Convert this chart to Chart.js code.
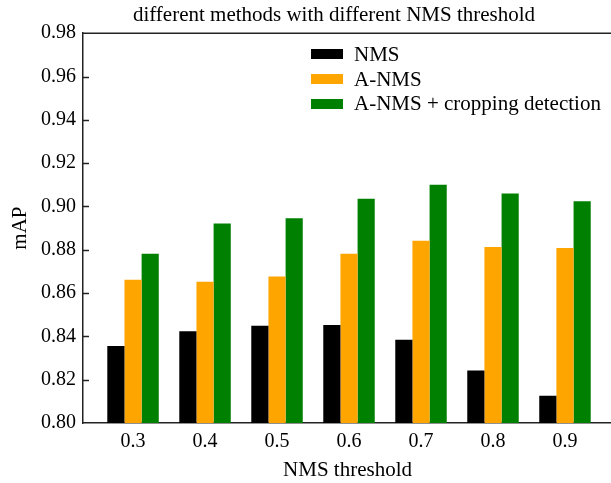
<!DOCTYPE html>
<html lang="en">
<head>
  <meta charset="UTF-8" />
  <title>different methods with different NMS threshold</title>
  <script src="https://cdn.jsdelivr.net/npm/chart.js"></script>
  <style>
    html, body { margin: 0; padding: 0; background: #fff; overflow: hidden; }
    #wrap { position: relative; width: 611px; height: 483px; overflow: hidden; }
    #legend {
      position: absolute; left: 311px; top: 42px;
      font-family: "Liberation Serif", "Times New Roman", serif; font-size: 21px; color: #000;
    }
    .row { display: flex; align-items: center; height: 24.7px; line-height: 24.7px; white-space: nowrap; }
    .sw { width: 32px; height: 10px; margin-right: 11px; }
  </style>
</head>
<body>
  <div id="wrap">
    <canvas id="myChart" width="668" height="483"></canvas>
    <div id="legend"></div>
  </div>

  <script>
    // NMS threshold (x axis)
    const thresholds = [0.3, 0.4, 0.5, 0.6, 0.7, 0.8, 0.9];
    const yTicks = [0.80, 0.82, 0.84, 0.86, 0.88, 0.90, 0.92, 0.94, 0.96, 0.98];

    // mAP values
    const nms      = [0.8356, 0.8424, 0.8449, 0.8453, 0.8384, 0.8242, 0.8126];
    const anms     = [0.8662, 0.8652, 0.8677, 0.8782, 0.8842, 0.8813, 0.8808];
    const anmsCrop = [0.8782, 0.8921, 0.8945, 0.9035, 0.9100, 0.9060, 0.9024];

    const seriesNames  = ['NMS', 'A-NMS', 'A-NMS + cropping detection'];
    const seriesColors = ['#000000', '#ffa500', '#008000'];

    const serif = '"Liberation Serif", "Times New Roman", serif';
    const toPoints = vals => vals.map((v, i) => ({ x: thresholds[i], y: v }));

    // title of the figure is centred on the whole canvas, not the padded area
    const titleWide = {
      id: 'titleWide',
      afterLayout(chart) {
        if (chart.titleBlock) {
          chart.titleBlock.left = 0;
          chart.titleBlock.right = chart.width;
        }
      }
    };

    // top frame line + inward y ticks
    const frame = {
      id: 'frame',
      afterDatasetsDraw(chart) {
        const { ctx, chartArea: a, scales: { y } } = chart;
        ctx.save();
        ctx.strokeStyle = '#222';
        ctx.lineWidth = 1.5;
        ctx.beginPath();
        ctx.moveTo(a.left, a.top);
        ctx.lineTo(a.right, a.top);
        yTicks.slice(1, -1).forEach(v => {
          const py = Math.round(y.getPixelForValue(v)) + 0.5;
          ctx.moveTo(a.left, py);
          ctx.lineTo(a.left + 6, py);
        });
        ctx.stroke();
        ctx.restore();
      }
    };

    const datasets = [nms, anms, anmsCrop].map((vals, i) => ({
      label: seriesNames[i],
      data: toPoints(vals),
      backgroundColor: seriesColors[i],
      borderWidth: 0,
      categoryPercentage: 0.715,
      barPercentage: 1.0
    }));

    new Chart(document.getElementById('myChart'), {
      type: 'bar',
      data: { datasets },
      plugins: [titleWide, frame],
      options: {
        responsive: false,
        animation: false,
        layout: { padding: { left: 0, right: 56, top: 0, bottom: 0 } },
        scales: {
          x: {
            type: 'linear',
            offset: false,
            min: 0.2305,
            max: 0.9653,
            z: 1,
            afterBuildTicks: axis => { axis.ticks = thresholds.map(v => ({ value: v })); },
            afterFit: s => { s.height = 60; },
            grid: { display: false, drawTicks: false },
            border: { display: true, color: '#222', width: 1.5 },
            ticks: {
              color: '#000',
              padding: 7,
              font: { family: serif, size: 20 },
              callback: v => v.toFixed(1)
            },
            title: {
              display: true,
              text: 'NMS threshold',
              color: '#000',
              padding: { top: 0, bottom: 0 },
              font: { family: serif, size: 21 }
            }
          },
          y: {
            min: 0.80,
            max: 0.98,
            z: 1,
            afterBuildTicks: axis => { axis.ticks = yTicks.map(v => ({ value: v })); },
            afterFit: s => { s.width = 83; },
            grid: { display: false, drawTicks: false },
            border: { display: true, color: '#222', width: 1.5 },
            ticks: {
              color: '#000',
              padding: 7,
              font: { family: serif, size: 20 },
              callback: v => v.toFixed(2)
            },
            title: {
              display: true,
              text: 'mAP',
              color: '#000',
              padding: { top: 8, bottom: 0 },
              font: { family: serif, size: 21 }
            }
          }
        },
        plugins: {
          legend: { display: false },
          tooltip: { enabled: false },
          title: {
            display: true,
            text: 'different methods with different NMS threshold',
            color: '#000',
            padding: { top: 3, bottom: 5 },
            font: { family: serif, size: 21, weight: 'normal' }
          }
        }
      }
    });

    // legend drawn as html, built from the series arrays
    const legend = document.getElementById('legend');
    seriesNames.forEach((name, i) => {
      const row = document.createElement('div');
      row.className = 'row';
      const sw = document.createElement('span');
      sw.className = 'sw';
      sw.style.background = seriesColors[i];
      const txt = document.createElement('span');
      txt.textContent = name;
      row.appendChild(sw);
      row.appendChild(txt);
      legend.appendChild(row);
    });
  </script>
</body>
</html>
